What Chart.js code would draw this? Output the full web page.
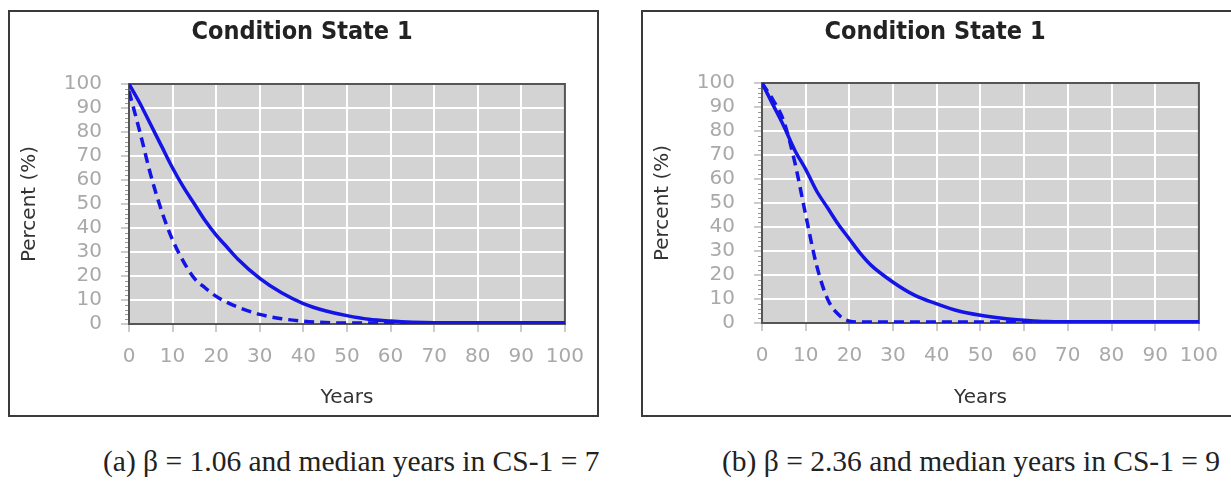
<!DOCTYPE html>
<html>
<head>
<meta charset="utf-8">
<script src="https://cdn.jsdelivr.net/npm/chart.js@4.4.1/dist/chart.umd.min.js"></script>
<style>
  html, body { margin: 0; padding: 0; background: #fff; }
  body { width: 1231px; height: 481px; position: relative; overflow: hidden; }
  .frame { position: absolute; border: 2px solid #3a3a3a; box-sizing: border-box; }
  .frame canvas { display: block; }
  .cap {
    position: absolute; white-space: nowrap; color: #222; line-height: 1;
    font-family: "Liberation Serif", "Times New Roman", serif; font-size: 29.5px;
  }
</style>
</head>
<body>
<div class="frame" style="left:8px;top:10px;width:591px;height:407px;"><canvas id="chartA" width="587" height="403"></canvas></div>
<div class="frame" style="left:641px;top:10px;width:592px;height:407px;"><canvas id="chartB" width="588" height="403"></canvas></div>
<div class="cap" style="left:103px;top:447px;">(a) β = 1.06 and median years in CS-1 = 7</div>
<div class="cap" style="left:722px;top:447px;">(b) β = 2.36 and median years in CS-1 = 9</div>

<script>
// --- data ---
const years = [0, 2.5, 5, 7.5, 10, 12.5, 15, 17.5, 20, 22.5, 25, 30, 35, 40, 45, 50, 55, 60, 65, 70, 80, 90, 100];

// (a) beta = 1.06, median 7
const solidA  = [100, 92, 83, 74, 65, 57, 50, 43, 37, 32, 27, 19, 13, 8.5, 5.5, 3.5, 2, 1.2, 0.7, 0.5, 0.5, 0.5, 0.5];
const dashedA = [97, 80, 62, 47, 35, 26, 19, 15, 11.5, 9, 7, 4, 2.2, 1.2, 0.6, 0.4, 0.4, 0.4, 0.4, 0.4, 0.4, 0.4, 0.4];

// (b) beta = 2.36, median 9
const solidB  = [100, 91, 82, 72, 64, 55, 48, 41, 35, 29, 24, 17, 11.5, 8, 5, 3.2, 2, 1.2, 0.6, 0.5, 0.5, 0.5, 0.5];
const dashedB = [100, 93, 84, 67, 45, 24, 10, 3.5, 0.8, 0.4, 0.4, 0.4, 0.4, 0.4, 0.4, 0.4, 0.4, 0.4, 0.4, 0.4, 0.4, 0.4, 0.4];

const chartTitleText = "Condition State 1";
const xTitle = "Years";
const yTitle = "Percent (%)";
const axisMin = 0, axisMax = 100, majorStep = 10, minorStep = 2;

// --- styles ---
const BLUE = "#1414e6";
const PLOT_BG = "#d3d3d3";
const TICK_COLOR = "#a9a9a9";
const TEXT_DARK = "#333";
const SANS = "'DejaVu Sans', Verdana, sans-serif";

// grey plot background
const plotBackground = {
  id: "plotBackground",
  beforeDraw(chart) {
    const { ctx, chartArea: a } = chart;
    ctx.save();
    ctx.fillStyle = PLOT_BG;
    ctx.fillRect(a.left, a.top, a.width, a.height);
    ctx.restore();
  }
};

// top/right border of the plot + small minor ticks on the y axis
const plotFrame = {
  id: "plotFrame",
  beforeDatasetsDraw(chart) {
    const { ctx, chartArea: a, scales } = chart;
    ctx.save();
    ctx.strokeStyle = "#555";
    ctx.lineWidth = 2;
    ctx.beginPath();
    ctx.moveTo(a.left, a.top);
    ctx.lineTo(a.right, a.top);
    ctx.lineTo(a.right, a.bottom);
    ctx.stroke();
    ctx.strokeStyle = "#9a9a9a";
    ctx.lineWidth = 1;
    for (let v = axisMin + minorStep; v < axisMax; v += minorStep) {
      if (v % majorStep === 0) continue;
      const y = Math.round(scales.y.getPixelForValue(v)) + 0.5;
      ctx.beginPath();
      ctx.moveTo(a.left - 4, y);
      ctx.lineTo(a.left - 1, y);
      ctx.stroke();
    }
    ctx.restore();
  }
};

// title centred on the whole frame (built-in title would follow layout padding)
const chartTitle = {
  id: "chartTitle",
  afterDraw(chart, args, opts) {
    const { ctx } = chart;
    ctx.save();
    ctx.font = "bold 25px 'DejaVu Sans Condensed', 'DejaVu Sans', sans-serif";
    ctx.fillStyle = "#222";
    ctx.textAlign = "center";
    ctx.textBaseline = "middle";
    ctx.fillText(opts.text, opts.x, opts.y);
    ctx.restore();
  }
};

function buildChart(id, solid, dashed, box) {
  const ctx = document.getElementById(id);
  return new Chart(ctx, {
    type: "line",
    data: {
      datasets: [
        {
          data: years.map((x, i) => ({ x: x, y: solid[i] })),
          borderColor: BLUE, borderWidth: 3.5, pointRadius: 0,
          cubicInterpolationMode: "monotone", fill: false
        },
        {
          data: years.map((x, i) => ({ x: x, y: dashed[i] })),
          borderColor: BLUE, borderWidth: 3.5, borderDash: [10, 6], pointRadius: 0,
          cubicInterpolationMode: "monotone", fill: false
        }
      ]
    },
    options: {
      responsive: false,
      animation: false,
      events: [],
      layout: { padding: { left: 0, right: box.padRight, top: box.plotTop, bottom: 0 } },
      plugins: {
        legend: { display: false },
        tooltip: { enabled: false },
        chartTitle: { text: chartTitleText, x: box.titleX, y: 20 }
      },
      scales: {
        x: {
          type: "linear", min: axisMin, max: axisMax,
          ticks: { stepSize: majorStep, autoSkip: false, color: TICK_COLOR, font: { family: SANS, size: 20 }, padding: 13, maxRotation: 0 },
          grid: { color: "#fff", lineWidth: 2, tickColor: "#999", tickLength: 8, tickWidth: 1 },
          border: { color: "#555", width: 2 },
          title: { display: true, text: xTitle, color: TEXT_DARK, font: { family: SANS, size: 20 }, padding: { top: 0, bottom: 5 } },
          afterFit: (s) => { s.height = box.xHeight; }
        },
        y: {
          min: axisMin, max: axisMax,
          ticks: { stepSize: majorStep, autoSkip: false, color: TICK_COLOR, font: { family: SANS, size: 20 }, padding: 19 },
          grid: { color: "#fff", lineWidth: 2, tickColor: "#999", tickLength: 8, tickWidth: 1 },
          border: { color: "#555", width: 2 },
          title: { display: true, text: yTitle, color: TEXT_DARK, font: { family: SANS, size: 20 }, padding: { top: 8, bottom: 0 } },
          afterFit: (s) => { s.width = 119; }
        }
      }
    },
    plugins: [plotBackground, plotFrame, chartTitle]
  });
}

buildChart("chartA", solidA, dashedA, { padRight: 30, plotTop: 72, xHeight: 91, titleX: 292 });
buildChart("chartB", solidB, dashedB, { padRight: 27, plotTop: 71, xHeight: 92, titleX: 292 });
</script>
</body>
</html>
